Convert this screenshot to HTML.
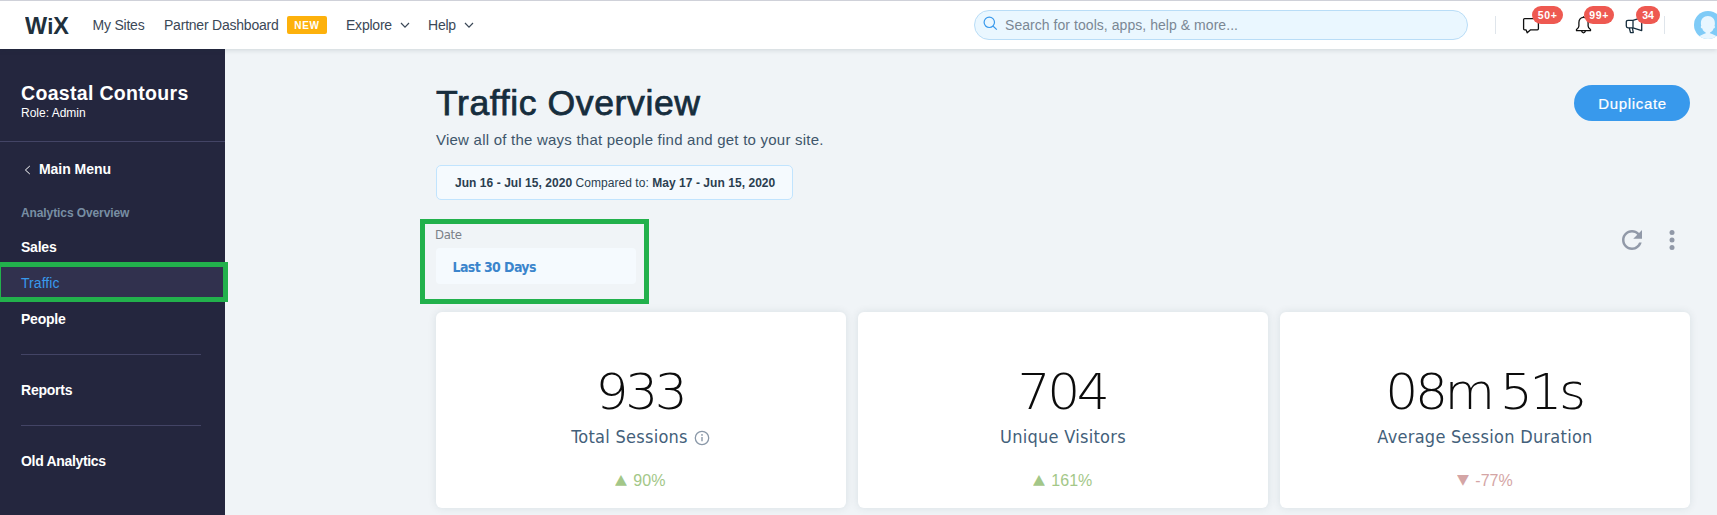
<!DOCTYPE html>
<html lang="en">
<head>
<meta charset="utf-8">
<title>Traffic Overview</title>
<style>
*{box-sizing:border-box;margin:0;padding:0}
html,body{width:1717px;height:515px;overflow:hidden;background:#f0f4f7;font-family:"Liberation Sans",sans-serif;color:#162d3d}
.abs{position:absolute}
svg{position:absolute;overflow:visible}
#top{position:absolute;left:0;top:0;width:1717px;height:49px;background:#fff;box-shadow:0 1px 5px rgba(22,45,61,.16);z-index:5}
#topline{position:absolute;left:0;top:0;width:1717px;height:1px;background:#cfd1d9}
#top .t{position:absolute;top:17px;font-size:14px;line-height:16px;color:#3b4857;white-space:nowrap;letter-spacing:-.22px}
#logo{position:absolute;left:25px;top:14px;font-weight:bold;font-size:23px;line-height:24px;letter-spacing:0;color:#20303c;transform-origin:0 50%;transform:scaleX(1.02)}
#new{position:absolute;left:287px;top:16px;width:40px;height:18px;border-radius:2px;background:#fdb10c;color:#fff;font-weight:bold;font-size:10px;line-height:20px;text-align:center;letter-spacing:.8px;padding-left:0}
#search{position:absolute;left:974px;top:10px;width:494px;height:30px;border-radius:15px;border:1px solid #b9ddf7;background:#eaf7ff}
#search span{position:absolute;left:30px;top:6px;font-size:14px;line-height:16px;color:#7a8794;white-space:nowrap;letter-spacing:.05px}
.vline{position:absolute;top:16px;width:1px;height:18px;background:#dfe5eb}
.badge{position:absolute;top:6px;height:18px;border-radius:9px;background:#ee5951;color:#fff;font-weight:bold;font-size:10.5px;line-height:19px;text-align:center}
#side{position:absolute;left:0;top:49px;width:225px;height:466px;background:#24263e}
#side .m{position:absolute;left:21px;font-size:14px;line-height:16px;color:#fff;font-weight:bold;white-space:nowrap;letter-spacing:-.22px}
#side .hr{position:absolute;left:21px;width:180px;height:1px;background:#434465}
.card{position:absolute;top:312px;width:410px;height:196px;background:#fff;border-radius:6px;box-shadow:0 0 8px rgba(22,45,61,.10)}
.card .num{position:absolute;left:-1.300px;width:410px;top:50.500px;text-align:center;font-family:"DejaVu Sans Light","DejaVu Sans",sans-serif;font-weight:200;font-size:50px;line-height:58px;color:#0c0c0c;letter-spacing:-3.3px;transform:scaleX(1.04);white-space:nowrap}
.card .lab{position:absolute;left:0;width:410px;top:114px;text-align:center;font-family:"DejaVu Sans Condensed","DejaVu Sans",sans-serif;font-size:18px;line-height:22px;color:#43607a;letter-spacing:.27px;white-space:nowrap}
.card .pct{position:absolute;left:0;width:410px;top:470px;text-align:center;font-size:16px;line-height:20px;white-space:nowrap}
.tri{font-family:"DejaVu Sans",sans-serif;font-size:15.500px;line-height:19px;display:inline-block;vertical-align:top;margin-right:2px;transform:scaleY(.9);transform-origin:50% 78%;position:relative;top:-1.300px}
</style>
</head>
<body>
<div id="top">
  <div id="topline"></div>
  <div id="logo">W<span style="font-size:21.700px">i</span>X</div>
  <div class="t" style="left:92.500px">My Sites</div>
  <div class="t" style="left:164px">Partner Dashboard</div>
  <div id="new">NEW</div>
  <div class="t" style="left:346px">Explore</div>
  <svg style="left:400px;top:22px" width="10" height="7" viewBox="0 0 10 7"><path d="M1 1l4 4.2L9 1" fill="none" stroke="#3b4857" stroke-width="1.2"/></svg>
  <div class="t" style="left:428px">Help</div>
  <svg style="left:464px;top:22px" width="10" height="7" viewBox="0 0 10 7"><path d="M1 1l4 4.2L9 1" fill="none" stroke="#3b4857" stroke-width="1.2"/></svg>
  <div id="search">
    <svg style="left:7.800px;top:5px" width="15" height="15" viewBox="0 0 15 15"><circle cx="6.3" cy="6.3" r="5.2" fill="none" stroke="#3899ec" stroke-width="1.2"/><path d="M10.2 10.2l3.6 3.4" stroke="#3899ec" stroke-width="1.2" fill="none"/></svg>
    <span>Search for tools, apps, help &amp; more...</span>
  </div>
  <div class="vline" style="left:1495px"></div>
  <div class="vline" style="left:1664px"></div>
  <!-- chat -->
  <svg style="left:1522px;top:17px" width="18" height="17" viewBox="0 0 18 17"><path d="M2.6 1.6h12.8q1 0 1 1v9.2q0 1-1 1H8.6L5.2 15.8 4 12.8H2.6q-1 0-1-1V2.6q0-1 1-1z" fill="none" stroke="#111" stroke-width="1.3" stroke-linejoin="round"/></svg>
  <!-- bell -->
  <svg style="left:1575px;top:15px" width="17" height="19" viewBox="0 0 17 19"><path d="M8.5 1.3v1.2M8.5 2.4c-2.9 0-4.6 2.2-4.6 5v3.6c0 1.6-1.1 2.6-2.4 3.6v1.1h14v-1.1c-1.3-1-2.4-2-2.4-3.6V7.4c0-2.8-1.7-5-4.6-5zM6.6 16.2c.3 1.1 1 1.6 1.9 1.6s1.6-.5 1.9-1.6" fill="none" stroke="#111" stroke-width="1.3" stroke-linejoin="round"/></svg>
  <!-- megaphone -->
  <svg style="left:1625px;top:16px" width="18" height="18" viewBox="0 0 18 18"><path d="M8 4.3H3q-1.7 0-1.7 1.7v4.100q0 1.700 1.700 1.700h5zM8 4.300l8.700-2.700V14.600L8 11.800M4.300 12l1.200 4.600h2.800L7.400 12" fill="none" stroke="#162d3d" stroke-width="1.3" stroke-linejoin="round"/></svg>
  <div class="badge" style="left:1532px;width:31px;letter-spacing:.7px;padding-left:.5px">50+</div>
  <div class="badge" style="left:1584px;width:30px;letter-spacing:.7px;padding-left:.5px">99+</div>
  <div class="badge" style="left:1636px;width:24px">34</div>
  <!-- avatar -->
  <svg style="left:1694px;top:11px" width="28" height="28" viewBox="0 0 28 28"><defs><clipPath id="av"><circle cx="14" cy="14" r="14"/></clipPath></defs><circle cx="14" cy="14" r="14" fill="#7fcbf7"/><g clip-path="url(#av)" fill="#e8f6ff"><path d="M13.900 4.900c4.100 0 7 3 7 7.300 0 1.100-.1 2-.4 2.800.6.300.6 1.100.3 1.700-.3.500-.8.800-1.300.700-.4 2.500-2.600 4.200-5.600 4.200s-5.200-1.700-5.600-4.200c-.5.100-1-.2-1.300-.7-.3-.6-.3-1.400.3-1.700-.3-.8-.4-1.700-.4-2.800 0-4.300 2.900-7.300 7-7.300z"/><path d="M11.700 20.500h4.400v2h-4.400z"/><path d="M5 25.200Q10 22.900 13.900 21.600 18 22.900 22.800 25.200L25 29H3z"/></g></svg>
</div>
<div id="side">
  <div class="m" style="top:31.500px;font-size:19.500px;line-height:24px;letter-spacing:.32px">Coastal Contours</div>
  <div class="m" style="top:57px;font-size:12px;line-height:14px;font-weight:normal;letter-spacing:0">Role: Admin</div>
  <div class="hr" style="left:0;width:225px;top:92px"></div>
  <svg style="left:24px;top:115.500px" width="7" height="10" viewBox="0 0 7 10"><path d="M5.800 1L1.400 5 5.800 9" fill="none" stroke="#fff" stroke-width="1"/></svg>
  <div class="m" style="left:39px;top:112px;letter-spacing:-.05px">Main Menu</div>
  <div class="m" style="top:157px;font-size:12px;line-height:14px;color:#788ea3;letter-spacing:-.1px">Analytics Overview</div>
  <div class="m" style="top:190px">Sales</div>
  <div class="abs" style="left:-4px;top:213px;width:232px;height:40px;border:5px solid #22b14c;background:#31314e"></div>
  <div class="m" style="top:226px;color:#3899ec;font-weight:normal;letter-spacing:.05px">Traffic</div>
  <div class="m" style="top:262px">People</div>
  <div class="hr" style="top:305px"></div>
  <div class="m" style="top:333px">Reports</div>
  <div class="hr" style="top:376px"></div>
  <div class="m" style="top:404px;letter-spacing:-.32px">Old Analytics</div>
</div>
<div class="abs" style="left:436px;top:80.500px;font-size:35.600px;line-height:44px;color:#162d3d;white-space:nowrap;letter-spacing:.6px;-webkit-text-stroke:.75px #162d3d">Traffic Overview</div>
<div class="abs" style="left:436px;top:130px;font-size:15px;line-height:20px;color:#3e566b;white-space:nowrap;letter-spacing:.23px">View all of the ways that people find and get to your site.</div>
<div class="abs" style="left:436px;top:165px;width:357px;height:35px;border:1px solid #c1e4fe;border-radius:5px;background:#f5fafe"></div>
<div class="abs" style="left:455px;top:176px;font-size:12px;line-height:15px;color:#2b3e50;white-space:nowrap;letter-spacing:.05px"><b>Jun 16 - Jul 15, 2020</b> Compared to: <b>May 17 - Jun 15, 2020</b></div>
<div class="abs" style="left:420px;top:219px;width:229px;height:85px;border:5px solid #22b14c"></div>
<div class="abs" style="left:435px;top:227px;font-family:'DejaVu Sans Condensed','DejaVu Sans',sans-serif;font-size:13px;line-height:15px;color:#7a8087;letter-spacing:-.3px">Date</div>
<div class="abs" style="left:436px;top:248px;width:200px;height:36px;background:#f5fafe;border-radius:4px"></div>
<div class="abs" style="left:452.500px;top:259px;font-family:'DejaVu Sans Condensed','DejaVu Sans',sans-serif;font-weight:bold;font-size:14px;line-height:17px;color:#3b85cc;white-space:nowrap;letter-spacing:-.6px">Last 30 Days</div>
<div class="abs" style="left:1574px;top:85px;width:116px;height:36px;border-radius:18px;background:#3899ec;color:#fff;font-size:15px;line-height:36px;padding-top:1px;padding-left:1px;text-align:center;letter-spacing:.68px;-webkit-text-stroke:.2px #fff">Duplicate</div>
<svg style="left:1617px;top:225px" width="30" height="30" viewBox="0 0 24 24"><path fill="#9199a8" d="M17.650 6.350C16.200 4.900 14.210 4 12 4c-4.420 0-7.990 3.580-7.990 8s3.570 8 7.990 8c3.730 0 6.840-2.550 7.730-6h-2.080c-.82 2.330-3.040 4-5.650 4-3.310 0-6-2.690-6-6s2.690-6 6-6c1.660 0 3.140.69 4.220 1.780L13 11h7V4l-2.350 2.350z"/></svg>
<svg style="left:1657px;top:225px" width="30" height="30" viewBox="0 0 24 24"><g fill="#9199a8"><circle cx="12" cy="6" r="2"/><circle cx="12" cy="12" r="2"/><circle cx="12" cy="18" r="2"/></g></svg>

<div class="card" style="left:436px"><div class="num">933</div><div class="lab" style="padding-right:23px">Total Sessions</div>
<svg style="left:258px;top:118px" width="16" height="16" viewBox="0 0 16 16"><circle cx="8" cy="8" r="6.700" fill="none" stroke="#8a98a8" stroke-width="1.300"/><path d="M8 7v4.300" stroke="#8a98a8" stroke-width="1.400"/><circle cx="8" cy="4.900" r=".9" fill="#8a98a8"/></svg></div>
<div class="card" style="left:858px"><div class="num">704</div><div class="lab">Unique Visitors</div></div>
<div class="card" style="left:1280px"><div class="num" style="word-spacing:-5px">08m 51s</div><div class="lab">Average Session Duration</div></div>
<div class="abs" style="left:615px;top:471px;font-size:16px;line-height:20px;color:#a3c788;white-space:nowrap"><span class="tri">▲</span> 90%</div>
<div class="abs" style="left:1033px;top:471px;font-size:16px;line-height:20px;color:#a3c788;white-space:nowrap"><span class="tri">▲</span> 161%</div>
<div class="abs" style="left:1457px;top:471px;font-size:16px;line-height:20px;color:#d4a5a5;white-space:nowrap"><span class="tri">▼</span> -77%</div>
</body>
</html>
